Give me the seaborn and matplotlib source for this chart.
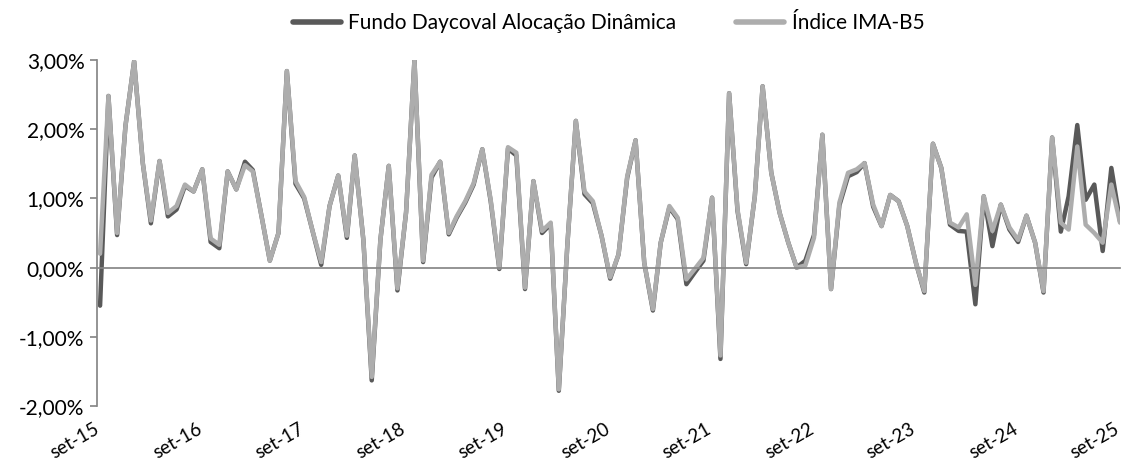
import matplotlib
matplotlib.use("Agg")
import matplotlib.pyplot as plt
import matplotlib.ticker as mticker
import matplotlib.transforms as mtrans
import numpy as np
import pandas as pd
import seaborn as sns

# monthly returns (%), set/2015 .. set/2025
fundo = [-0.55, 2.48, 0.47, 2.05, 2.98, 1.51, 0.64, 1.54, 0.74, 0.84, 1.18, 1.10,
         1.42, 0.37, 0.28, 1.39, 1.13, 1.53, 1.41, 0.75, 0.10, 0.50, 2.84, 1.21,
         1.00, 0.53, 0.04, 0.89, 1.33, 0.43, 1.62, 0.40, -1.63, 0.40, 1.47, -0.33,
         0.80, 3.00, 0.08, 1.30, 1.53, 0.48, 0.72, 0.94, 1.20, 1.71, 0.96, -0.02,
         1.72, 1.62, -0.31, 1.25, 0.50, 0.63, -1.78, 0.35, 2.12, 1.06, 0.93, 0.46,
         -0.16, 0.19, 1.30, 1.84, 0.07, -0.62, 0.36, 0.87, 0.70, -0.24, -0.07, 0.10,
         1.01, -1.32, 2.52, 0.82, 0.05, 1.03, 2.62, 1.37, 0.79, 0.36, 0.00, 0.10,
         0.47, 1.92, -0.31, 0.90, 1.32, 1.38, 1.51, 0.88, 0.60, 1.05, 0.96, 0.60,
         0.07, -0.36, 1.79, 1.44, 0.62, 0.53, 0.52, -0.53, 1.03, 0.31, 0.91, 0.55,
         0.37, 0.75, 0.36, -0.36, 1.88, 0.52, 1.03, 2.06, 0.98, 1.20, 0.24, 1.44,
         0.67]
indice = [0.20, 2.48, 0.50, 2.05, 2.98, 1.51, 0.68, 1.54, 0.79, 0.89, 1.20, 1.10,
          1.42, 0.42, 0.33, 1.39, 1.13, 1.48, 1.39, 0.75, 0.10, 0.50, 2.84, 1.25,
          1.02, 0.53, 0.08, 0.89, 1.33, 0.46, 1.62, 0.40, -1.58, 0.40, 1.47, -0.30,
          0.80, 3.00, 0.10, 1.34, 1.53, 0.50, 0.74, 0.96, 1.22, 1.71, 0.98, 0.00,
          1.74, 1.66, -0.29, 1.25, 0.53, 0.65, -1.76, 0.35, 2.12, 1.10, 0.96, 0.46,
          -0.14, 0.19, 1.32, 1.84, 0.07, -0.60, 0.36, 0.89, 0.72, -0.17, -0.02, 0.14,
          1.01, -1.27, 2.52, 0.84, 0.07, 1.03, 2.62, 1.37, 0.79, 0.36, 0.00, 0.03,
          0.43, 1.92, -0.31, 0.94, 1.37, 1.42, 1.51, 0.91, 0.60, 1.05, 0.96, 0.60,
          0.07, -0.34, 1.79, 1.44, 0.65, 0.58, 0.77, -0.25, 1.03, 0.53, 0.91, 0.58,
          0.40, 0.75, 0.36, -0.34, 1.88, 0.65, 0.55, 1.75, 0.62, 0.50, 0.36, 1.20,
          0.65]
series_names = ["Fundo Daycoval Alocação Dinâmica", "Índice IMA-B5"]
datas = pd.date_range("2015-09-01", periods=len(fundo), freq="MS")
tick_datas = datas[::12]
tick_labels = ["set-%02d" % (d.year % 100) for d in tick_datas]

df = pd.DataFrame({
    "data": list(datas) * 2,
    "valor": fundo + indice,
    "serie": [series_names[0]] * len(fundo) + [series_names[1]] * len(indice),
})

sns.set_theme(style="white")
plt.rcParams["font.family"] = ["Lato", "DejaVu Sans"]
plt.rcParams["text.color"] = "black"
plt.rcParams["xtick.color"] = "black"
plt.rcParams["ytick.color"] = "black"

fig = plt.figure(figsize=(11.21, 4.66), dpi=100)
ax = fig.add_axes([97 / 1121, 1 - 406 / 466, 1023 / 1121, 346 / 466])

sns.lineplot(data=df, x="data", y="valor", hue="serie", hue_order=series_names,
             palette=["#595959", "#adadad"], linewidth=3.2, ax=ax)

ax.set_ylim(-2, 3)
ax.set_xlim(datas[0] - pd.Timedelta(days=11), datas[-1])
ax.set_yticks(np.arange(-2, 3.01, 1))
ax.yaxis.set_major_formatter(mticker.FuncFormatter(
    lambda v, p: ("%.2f%%" % v).replace(".", ",").replace("-0,00", "0,00")))
ax.set_xlabel("")
ax.set_ylabel("")

for s in ["top", "right"]:
    ax.spines[s].set_visible(False)
ax.spines["left"].set_color("#868686")
ax.spines["bottom"].set_color("#868686")
ax.spines["bottom"].set_position(("data", 0))

ax.set_xticks(tick_datas)
ax.tick_params(axis="x", direction="out", length=5, color="#868686",
               labelbottom=False)
ax.tick_params(axis="y", direction="out", length=5, color="#868686",
               labelsize=15, pad=4, left=True)

# labels at low position like Excel
sec = ax.secondary_xaxis("bottom")
sec.set_xticks(tick_datas)
sec.set_xticklabels(tick_labels, rotation=30, ha="right", va="top",
                    rotation_mode="anchor")
sec.tick_params(length=0, labelsize=13.5, pad=10)
sec.spines["bottom"].set_visible(False)
shift = mtrans.ScaledTranslation(-6 / 100, 0, fig.dpi_scale_trans)
for lab in sec.get_xticklabels():
    lab.set_transform(lab.get_transform() + shift)

leg = ax.legend(loc="center", bbox_to_anchor=(0.5, 1.107), ncol=2,
                frameon=False, fontsize=15, handlelength=2.3, handletextpad=0.35,
                columnspacing=2.9, borderaxespad=0)
for line in leg.get_lines():
    line.set_linewidth(4)

fig.savefig("out.png", dpi=100)
